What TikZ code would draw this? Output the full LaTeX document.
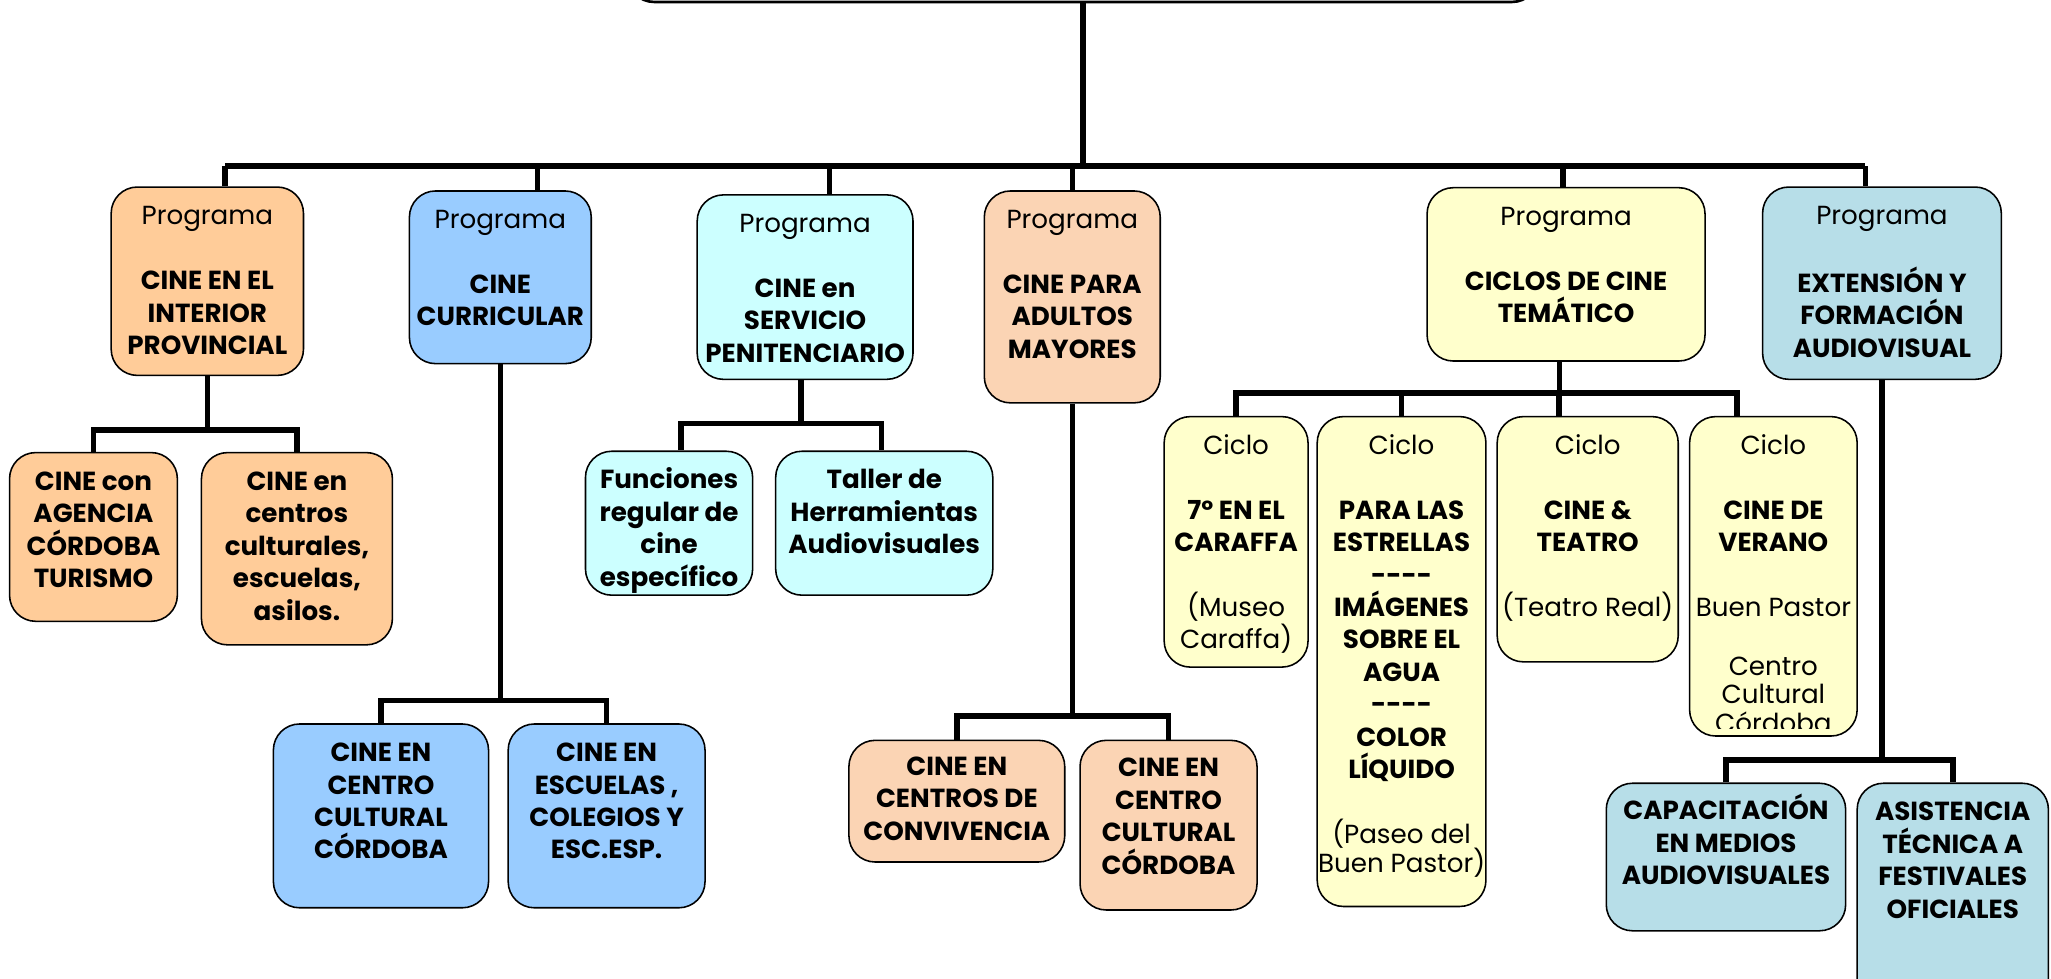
\documentclass[tikz,border=0pt]{standalone}
\usepackage{fontspec}
\setmainfont{Poppins}
\usetikzlibrary{fit, calc}

\definecolor{naranja}{HTML}{FFCC99}
\definecolor{azul}{HTML}{99CCFF}
\definecolor{celeste}{HTML}{CCFFFF}
\definecolor{durazno}{HTML}{FBD4B4}
\definecolor{amarillo}{HTML}{FFFFCC}
\definecolor{verdeazul}{HTML}{B7DEE8}

\newcommand{\tope}{\rule{0pt}{10pt}}

\begin{document}
\begin{tikzpicture}[x=0.5pt, y=-0.5pt,
    caja/.style={draw, line width=0.6pt, rounded corners=10pt, inner sep=0pt},
    texto/.style={anchor=north, align=center, inner sep=0pt, font=\fontsize{10}{12.4}\selectfont},
    negrita/.style={texto, font=\fontsize{10}{12.4}\selectfont\bfseries},
    linea/.style={line width=2.1pt}]

    \useasboundingbox (0,0) rectangle (1568,748);
    \clip (0,0) rectangle (1568,748);

    % recuadro superior
    \node[caja, line width=1pt, fill=white, fit={(480,-40) (1176,1.5)}] (arriba) {};

    % programas
    \node[caja, fill=naranja, fit={(85,143) (232,287)}] (p1) {};
    \node[caja, fill=azul, fit={(313,146) (452,278)}] (p2) {};
    \node[caja, fill=celeste, fit={(533,149) (698,290)}] (p3) {};
    \node[caja, fill=durazno, fit={(752.5,146) (887,308)}] (p4) {};
    \node[caja, fill=amarillo, fit={(1091,143.5) (1303.5,276)}] (p5) {};
    \node[caja, fill=verdeazul, fit={(1347.5,143) (1530,290)}] (p6) {};

    \node[texto] (p1t) at ($(p1.north)+(0,9)$) {\tope Programa\\[12.4pt]\textbf{CINE EN EL}\\\textbf{INTERIOR}\\\textbf{PROVINCIAL}};
    \node[texto] (p2t) at ($(p2.north)+(0,9)$) {\tope Programa\\[12.4pt]\textbf{CINE}\\\textbf{CURRICULAR}};
    \node[texto] (p3t) at ($(p3.north)+(0,9)$) {\tope Programa\\[12.4pt]\textbf{CINE en}\\\textbf{SERVICIO}\\\textbf{PENITENCIARIO}};
    \node[texto] (p4t) at ($(p4.north)+(0,9)$) {\tope Programa\\[12.4pt]\textbf{CINE PARA}\\\textbf{ADULTOS}\\\textbf{MAYORES}};
    \node[texto] (p5t) at ($(p5.north)+(0,9)$) {\tope Programa\\[12.4pt]\textbf{CICLOS DE CINE}\\\textbf{TEMÁTICO}};
    \node[texto] (p6t) at ($(p6.north)+(0,9)$) {\tope Programa\\[12.4pt]\textbf{EXTENSIÓN Y}\\\textbf{FORMACIÓN}\\\textbf{AUDIOVISUAL}};

    % interior provincial
    \node[caja, fill=naranja, fit={(7.3,346) (135.6,475)}] (a1) {};
    \node[caja, fill=naranja, fit={(154,346) (300,493)}] (a2) {};
    \node[negrita] (a1t) at ($(a1.north)+(0,9)$) {\tope CINE con\\AGENCIA\\CÓRDOBA\\TURISMO};
    \node[negrita] (a2t) at ($(a2.north)+(0,9)$) {\tope CINE en\\centros\\culturales,\\escuelas,\\asilos.};

    % curricular
    \node[caja, fill=azul, fit={(209,553.5) (373.5,694)}] (b1) {};
    \node[caja, fill=azul, fit={(388.5,553.5) (539,694)}] (b2) {};
    \node[negrita] (b1t) at ($(b1.north)+(0,9)$) {\tope CINE EN\\CENTRO\\CULTURAL\\CÓRDOBA};
    \node[negrita] (b2t) at ($(b2.north)+(0,9)$) {\tope CINE EN\\ESCUELAS ,\\COLEGIOS Y\\ESC.ESP.};

    % servicio penitenciario
    \node[caja, fill=celeste, fit={(447.6,345) (575.4,455)}] (c1) {};
    \node[caja, fill=celeste, fit={(593,345) (759,455)}] (c2) {};
    \node[negrita] (c1t) at ($(c1.north)+(0,9)$) {\tope Funciones\\regular de\\cine\\específico};
    \node[negrita] (c2t) at ($(c2.north)+(0,9)$) {\tope Taller de\\Herramientas\\Audiovisuales};

    % adultos mayores
    \node[caja, fill=durazno, fit={(649,566) (814,659)}] (d1) {};
    \node[caja, fill=durazno, fit={(825.7,566) (961,695.7)}] (d2) {};
    \node[negrita] (d1t) at ($(d1.north)+(0,7)$) {\tope CINE EN\\CENTROS DE\\CONVIVENCIA};
    \node[negrita] (d2t) at ($(d2.north)+(0,8)$) {\tope CINE EN\\CENTRO\\CULTURAL\\CÓRDOBA};

    % ciclos
    \node[caja, fill=amarillo, fit={(890,318.5) (1000,510)}] (e1) {};
    \node[caja, fill=amarillo, fit={(1007,318.5) (1136,693)}] (e2) {};
    \node[caja, fill=amarillo, fit={(1144.6,318.5) (1283,506)}] (e3) {};
    \node[caja, fill=amarillo, fit={(1291.7,318.5) (1419.8,562.7)}] (e4) {};
    \node[texto] (e1t) at ($(e1.north)+(0,9)$) {\tope Ciclo\\[12.4pt]\textbf{7º EN EL}\\\textbf{CARAFFA}\\[12.4pt](Museo\\Caraffa)};
    \node[texto] (e2t) at ($(e2.north)+(0,9)$) {\tope Ciclo\\[12.4pt]\textbf{PARA LAS}\\\textbf{ESTRELLAS}\\\textbf{-{}-{}-{}-}\\\textbf{IMÁGENES}\\\textbf{SOBRE EL}\\\textbf{AGUA}\\\textbf{-{}-{}-{}-}\\\textbf{COLOR}\\\textbf{LÍQUIDO}\\[12.4pt](Paseo del\\[-1.4pt]Buen Pastor)};
    \node[texto] (e3t) at ($(e3.north)+(0,9)$) {\tope Ciclo\\[12.4pt]\textbf{CINE \&}\\\textbf{TEATRO}\\[12.4pt](Teatro Real)};
    \begin{scope}
        \clip (1291.7,318.5) rectangle (1419.8,557);
        \node[texto] (e4t) at ($(e4.north)+(0,9)$) {\tope Ciclo\\[12.4pt]\textbf{CINE DE}\\\textbf{VERANO}\\[12.4pt]Buen Pastor\\[10pt]Centro\\[-1.4pt]Cultural\\[-1.4pt]Córdoba};
    \end{scope}

    % extension y formacion
    \node[caja, fill=verdeazul, fit={(1228,598.8) (1411,711.6)}] (f1) {};
    \node[caja, fill=verdeazul, fit={(1419.8,598.8) (1566,790)}] (f2) {};
    \node[negrita] (f1t) at ($(f1.north)+(0,8)$) {\tope CAPACITACIÓN\\EN MEDIOS\\AUDIOVISUALES};
    \node[negrita] (f2t) at ($(f2.north)+(0,9)$) {\tope ASISTENCIA\\TÉCNICA A\\FESTIVALES\\OFICIALES};

    % lineas principales
    \coordinate (jt) at (828,127);
    \coordinate (j1) at (172,127);
    \coordinate (j2) at (411,127);
    \coordinate (j3) at (634,127);
    \coordinate (j4) at (820,127);
    \coordinate (j5) at (1195,127);
    \coordinate (j6) at (1426,127);
    \draw[linea] (arriba.south) -- (jt);
    \draw[linea] (j1) -- (j6);
    \draw[linea] (j1) -- (j1 |- p1.north);
    \draw[linea] (j2) -- (j2 |- p2.north);
    \draw[linea] (j3) -- (j3 |- p3.north);
    \draw[linea] (j4) -- (j4 |- p4.north);
    \draw[linea] (j5) -- (j5 |- p5.north);
    \draw[linea] (j6) -- (j6 |- p6.north);

    % ramas
    \draw[linea] (p1.south) -- ++(0,41) coordinate (k1);
    \draw[linea] (a1.north) |- (k1) -| (a2.north);
    \draw[linea] (p2.south) -- ++(0,257) coordinate (k2);
    \draw[linea] (b1.north) |- (k2) -| (b2.north);
    \draw[linea] ($(p3.south)+(-3,0)$) -- ++(0,33) coordinate (k3);
    \draw[linea] ($(c1.north)+(9,0)$) |- (k3) -| ($(c2.north)+(-2,0)$);
    \draw[linea] (p4.south) -- ++(0,238.6) coordinate (k4);
    \draw[linea] (d1.north) |- (k4) -| (d2.north);
    \draw[linea] ($(p5.south)+(-5,0)$) -- ++(0,24) coordinate (k5);
    \draw[linea] (e1.north) |- (k5) -| ($(e4.north)+(-28,0)$);
    \draw[linea] (e2.north) -- (e2.north |- k5);
    \coordinate (e3c) at ($(e3.north)+(-22,0)$);
    \draw[linea] (e3c) -- (e3c |- k5);
    \draw[linea] (p6.south) -- ++(0,290.5) coordinate (k6);
    \draw[linea] (f1.north) |- (k6) -| (f2.north);

\end{tikzpicture}
\end{document}
